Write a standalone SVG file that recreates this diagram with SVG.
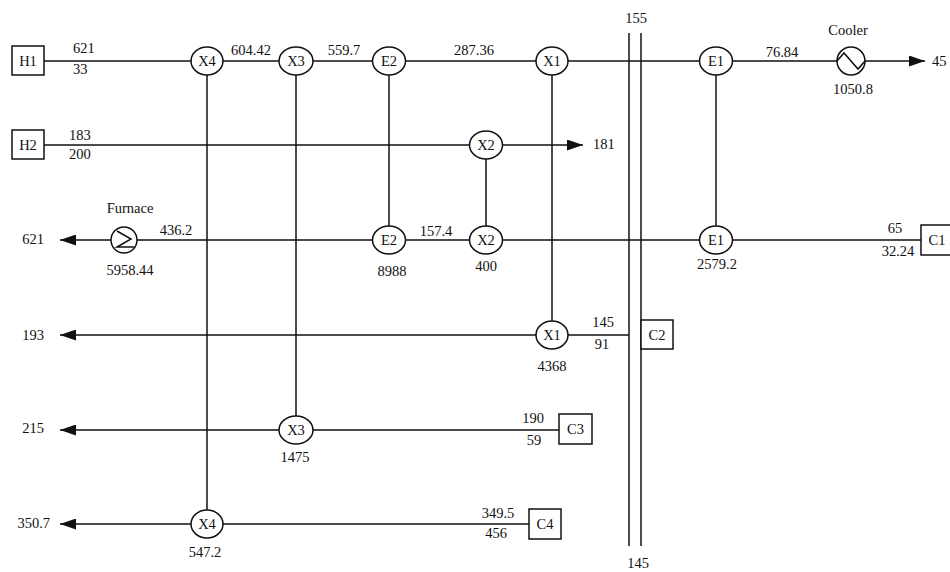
<svg xmlns="http://www.w3.org/2000/svg" width="950" height="572" viewBox="0 0 950 572">
<style>
text{font-family:"Liberation Serif","Times New Roman",serif;font-size:14.5px;fill:#111}
.c{text-anchor:middle}
.e{text-anchor:end}
.ln{stroke:#111;stroke-width:1.5;fill:none}
.nd{stroke:#111;stroke-width:1.5;fill:#fff}
</style>
<defs>
<marker id="ah" markerUnits="userSpaceOnUse" markerWidth="16" markerHeight="11" refX="16" refY="5.5" orient="auto">
<path d="M0,0 L16,5.5 L0,11 z" fill="#111"/>
</marker>
</defs>
<rect width="950" height="572" fill="#fff"/>
<g id="connectors" class="ln">
<line x1="44" y1="61" x2="191" y2="61"/>
<line x1="223" y1="61" x2="279" y2="61"/>
<line x1="313" y1="61" x2="373" y2="61"/>
<line x1="405" y1="61" x2="536" y2="61"/>
<line x1="568" y1="61" x2="700" y2="61"/>
<line x1="732" y1="61" x2="837" y2="61"/>
<line x1="865" y1="61" x2="925" y2="61" marker-end="url(#ah)"/>
<line x1="44" y1="145" x2="470" y2="145"/>
<line x1="502" y1="145" x2="583" y2="145" marker-end="url(#ah)"/>
<line x1="921" y1="240" x2="732" y2="240"/>
<line x1="700" y1="240" x2="502" y2="240"/>
<line x1="470" y1="240" x2="405" y2="240"/>
<line x1="373" y1="240" x2="137" y2="240"/>
<line x1="111" y1="240" x2="60" y2="240" marker-end="url(#ah)"/>
<line x1="629" y1="335" x2="568" y2="335"/>
<line x1="536" y1="335" x2="60" y2="335" marker-end="url(#ah)"/>
<line x1="559" y1="430" x2="313" y2="430"/>
<line x1="279" y1="430" x2="60" y2="430" marker-end="url(#ah)"/>
<line x1="529" y1="524" x2="223" y2="524"/>
<line x1="191" y1="524" x2="60" y2="524" marker-end="url(#ah)"/>
<line x1="207" y1="75" x2="207" y2="510"/>
<line x1="296" y1="75" x2="296" y2="416"/>
<line x1="389" y1="75" x2="389" y2="226"/>
<line x1="486" y1="159" x2="486" y2="226"/>
<line x1="552" y1="75" x2="552" y2="321"/>
<line x1="716" y1="75" x2="716" y2="226"/>
<line x1="629" y1="33" x2="629" y2="546"/>
<line x1="641" y1="33" x2="641" y2="546"/>
</g>
<g id="H1"><rect class="nd" x="12" y="46" width="32" height="29"/><text class="c" x="28" y="66">H1</text></g>
<g id="H2"><rect class="nd" x="12" y="130" width="32" height="29"/><text class="c" x="28" y="150">H2</text></g>
<g id="C1"><rect class="nd" x="921" y="225" width="34" height="30"/><text class="c" x="937" y="245">C1</text></g>
<g id="C2"><rect class="nd" x="641" y="320" width="32" height="29"/><text class="c" x="657" y="340">C2</text></g>
<g id="C3"><rect class="nd" x="559" y="414" width="33" height="30"/><text class="c" x="575.5" y="434">C3</text></g>
<g id="C4"><rect class="nd" x="529" y="509" width="32" height="30"/><text class="c" x="545" y="529">C4</text></g>
<g id="X4a"><ellipse class="nd" cx="207" cy="61" rx="16" ry="14"/><text class="c" x="207" y="66">X4</text></g>
<g id="X3a"><ellipse class="nd" cx="296" cy="61" rx="17" ry="14"/><text class="c" x="296" y="66">X3</text></g>
<g id="E2a"><ellipse class="nd" cx="389" cy="61" rx="16.5" ry="14"/><text class="c" x="389" y="66">E2</text></g>
<g id="X1a"><ellipse class="nd" cx="552" cy="61" rx="16" ry="14"/><text class="c" x="552" y="66">X1</text></g>
<g id="E1a"><ellipse class="nd" cx="716" cy="61" rx="16.5" ry="14"/><text class="c" x="716" y="66">E1</text></g>
<g id="X2a"><ellipse class="nd" cx="486" cy="145" rx="16.5" ry="14"/><text class="c" x="486" y="150">X2</text></g>
<g id="E2b"><ellipse class="nd" cx="389" cy="240" rx="16.5" ry="14"/><text class="c" x="389" y="245">E2</text></g>
<g id="X2b"><ellipse class="nd" cx="486" cy="240" rx="16.5" ry="14"/><text class="c" x="486" y="245">X2</text></g>
<g id="E1b"><ellipse class="nd" cx="716" cy="240" rx="16.5" ry="14"/><text class="c" x="716" y="245">E1</text></g>
<g id="X1b"><ellipse class="nd" cx="552" cy="335" rx="16" ry="14"/><text class="c" x="552" y="340">X1</text></g>
<g id="X3b"><ellipse class="nd" cx="296" cy="430" rx="17" ry="14"/><text class="c" x="296" y="435">X3</text></g>
<g id="X4b"><ellipse class="nd" cx="207" cy="524" rx="16" ry="14"/><text class="c" x="207" y="529">X4</text></g>
<g id="Cooler">
<circle class="nd" cx="851" cy="61" r="14"/>
<path class="ln" d="M837,61 L844,53 L858,69 L865,61"/>
<text class="c" x="848" y="35">Cooler</text>
<text class="c" x="853" y="94">1050.8</text>
</g>
<g id="Furnace">
<circle class="nd" cx="124" cy="240" r="13"/>
<path class="ln" d="M117,231 L131,239 L117,247 L134,247"/>
<text class="c" x="130" y="213">Furnace</text>
<text class="c" x="130" y="275">5958.44</text>
</g>
<g id="labels">
<text x="73" y="53">621</text>
<text x="73" y="74">33</text>
<text x="69" y="140">183</text>
<text x="69" y="159">200</text>
<text class="c" x="251" y="55">604.42</text>
<text class="c" x="344" y="55">559.7</text>
<text class="c" x="474" y="55">287.36</text>
<text x="593" y="149">181</text>
<text class="c" x="636" y="23">155</text>
<text class="c" x="782" y="57">76.84</text>
<text x="932" y="66">45</text>
<text class="e" x="44" y="244">621</text>
<text class="c" x="176" y="235">436.2</text>
<text class="c" x="392" y="276">8988</text>
<text class="c" x="436" y="236">157.4</text>
<text class="c" x="486" y="271">400</text>
<text class="c" x="717" y="269">2579.2</text>
<text class="c" x="895" y="233">65</text>
<text class="c" x="898" y="256">32.24</text>
<text class="e" x="44" y="340">193</text>
<text class="c" x="603" y="327">145</text>
<text class="c" x="602" y="349">91</text>
<text class="c" x="552" y="371">4368</text>
<text class="e" x="44" y="433">215</text>
<text class="c" x="295" y="462">1475</text>
<text class="c" x="533" y="423">190</text>
<text class="c" x="534" y="445">59</text>
<text class="e" x="50" y="528">350.7</text>
<text class="c" x="205" y="557">547.2</text>
<text class="c" x="498" y="518">349.5</text>
<text class="c" x="496" y="538">456</text>
<text class="c" x="638" y="568">145</text>
</g>
</svg>
